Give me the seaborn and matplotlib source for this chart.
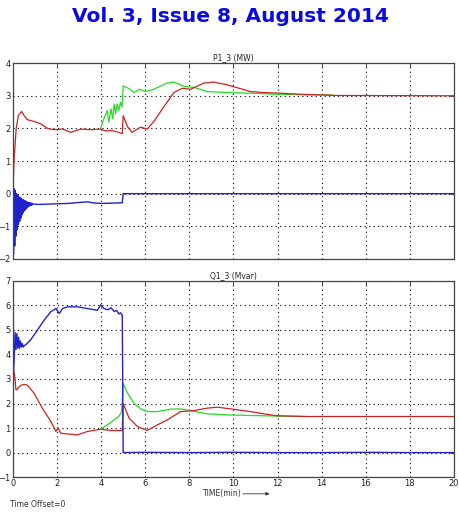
import numpy as np
import pandas as pd
import matplotlib
matplotlib.use("Agg")
import matplotlib.pyplot as plt
import seaborn as sns

# ---- data (time in minutes) ----
# P1_3 (MW)
p_red_t = [0, 0.05, 0.15, 0.25, 0.39, 0.5, 0.65, 0.97, 1.27, 1.57, 1.87, 2.25, 2.62, 3.08, 3.53,
           3.98, 4.2, 4.43, 4.7, 4.96, 5.0, 5.2, 5.4, 5.79, 6.09, 6.39, 6.85, 7.3, 7.68, 8.06,
           8.66, 9.1, 9.7, 10.77, 11.37, 12.1, 12.9, 14.7, 20]
p_red_y = [0, 1.0, 2.0, 2.4, 2.52, 2.4, 2.27, 2.21, 2.14, 2.0, 1.96, 1.98, 1.88, 1.98, 1.96,
           1.98, 1.92, 1.94, 1.9, 1.84, 2.39, 2.05, 1.88, 2.04, 1.98, 2.21, 2.67, 3.1, 3.23, 3.2,
           3.39, 3.42, 3.34, 3.13, 3.1, 3.08, 3.05, 3.01, 3.0]

p_green_t = [3.98, 4.1, 4.28, 4.35, 4.45, 4.52, 4.59, 4.66, 4.72, 4.8, 4.88, 4.95, 5.0, 5.27, 5.5,
             5.73, 6.03, 6.39, 6.99, 7.3, 7.75, 8.2, 8.8, 9.7, 10.77, 11.8, 14.5]
p_green_y = [2.0, 2.25, 2.55, 2.2, 2.6, 2.3, 2.75, 2.45, 2.75, 2.55, 2.8, 2.65, 3.3, 3.22, 3.1,
             3.2, 3.13, 3.2, 3.39, 3.42, 3.29, 3.26, 3.13, 3.1, 3.08, 3.05, 3.02]

p_blue_t = [0, 0.028, 0.056, 0.084, 0.112, 0.14, 0.168, 0.196, 0.224, 0.252, 0.28, 0.308, 0.336,
            0.364, 0.392, 0.42, 0.448, 0.476, 0.504, 0.532, 0.56, 0.588, 0.616, 0.644, 0.672,
            0.7, 0.728, 0.756, 0.784, 0.812, 0.84, 0.868, 0.9, 0.95, 1.2, 1.6, 2.0, 2.5, 3.0,
            3.4, 3.6, 4.0, 4.5, 4.96, 5.0, 20]
p_blue_y = [0, -1.85, 0.15, -1.6, 0.1, -1.3, 0.0, -1.1, -0.05, -0.95, -0.1, -0.85, -0.12, -0.75,
            -0.15, -0.65, -0.18, -0.58, -0.2, -0.52, -0.22, -0.47, -0.24, -0.43, -0.26, -0.4,
            -0.27, -0.38, -0.28, -0.36, -0.29, -0.35, -0.31, -0.32, -0.33, -0.32, -0.31, -0.3,
            -0.27, -0.25, -0.28, -0.3, -0.29, -0.28, 0.0, 0.0]

# Q1_3 (Mvar)
q_blue_t = [0, 0.05, 0.1, 0.14, 0.18, 0.22, 0.26, 0.3, 0.34, 0.38, 0.42, 0.46, 0.5, 0.59, 0.81,
            1.12, 1.42, 1.72, 1.95, 2.1, 2.25, 2.47, 2.93, 3.38, 3.83, 3.98, 4.13, 4.3, 4.45,
            4.6, 4.7, 4.8, 4.88, 4.96, 5.0, 6, 8, 10, 12, 14, 16, 18, 20]
q_blue_y = [3.0, 3.6, 4.9, 4.2, 4.85, 4.25, 4.7, 4.25, 4.55, 4.3, 4.45, 4.3, 4.35, 4.4, 4.6,
            5.0, 5.4, 5.74, 5.87, 5.67, 5.87, 5.94, 5.94, 5.87, 5.8, 6.02, 5.87, 5.82, 5.9,
            5.75, 5.8, 5.65, 5.7, 5.6, 0.0, 0.01, 0.0, 0.01, 0.0, 0.0, 0.01, 0.0, 0.0]

q_red_t = [0, 0.03, 0.1, 0.14, 0.22, 0.3, 0.4, 0.5, 0.65, 0.96, 1.34, 1.72, 1.95, 2.05, 2.17,
           2.47, 2.93, 3.38, 3.98, 4.43, 4.96, 5.0, 5.27, 5.65, 6.09, 6.55, 7.0, 7.6, 8.2, 8.8,
           9.27, 9.88, 10.77, 11.37, 11.97, 13.3, 20]
q_red_y = [0.0, 3.43, 3.0, 2.55, 2.6, 2.7, 2.75, 2.78, 2.75, 2.42, 1.8, 1.27, 0.86, 1.0, 0.79,
           0.76, 0.72, 0.86, 0.95, 0.9, 0.9, 2.0, 1.4, 1.06, 0.9, 1.13, 1.33, 1.67, 1.71, 1.81,
           1.85, 1.78, 1.67, 1.58, 1.5, 1.47, 1.47]

q_green_t = [3.98, 4.15, 4.28, 4.4, 4.58, 4.7, 4.8, 4.93, 5.0, 5.2, 5.5, 5.8, 6.09, 6.55, 7.15,
             7.6, 8.06, 8.8, 9.88, 11.37, 13.3]
q_green_y = [0.95, 1.05, 1.13, 1.2, 1.33, 1.4, 1.47, 1.67, 2.82, 2.42, 2.0, 1.78, 1.67, 1.67, 1.77,
             1.78, 1.71, 1.58, 1.53, 1.5, 1.47]

x_ticks = list(range(0, 21, 2))
p_ticks = list(range(-2, 5))
q_ticks = list(range(-1, 8))

RED = "#cc2222"
GREEN = "#22dd22"
BLUE = "#2222cc"

sns.set_theme(style="white")
plt.rcParams["font.family"] = ["DejaVu Sans"]

fig = plt.figure(figsize=(4.6, 5.22), dpi=100)
fig.text(0.5, 0.969, "Vol. 3, Issue 8, August 2014", ha="center", va="center",
         color="#0a0ae0", fontsize=14.5, fontweight="bold")

ax1 = fig.add_axes([0.028, 0.504, 0.959, 0.375])
ax2 = fig.add_axes([0.028, 0.086, 0.959, 0.376])


def draw(ax, series, yticks, title, show_x):
    for t, y, c, lw in series:
        sns.lineplot(x=t, y=y, ax=ax, color=c, linewidth=lw, sort=False, estimator=None)
    ax.set_xlim(0, 20)
    ax.set_ylim(yticks[0], yticks[-1])
    ax.set_xticks(x_ticks)
    ax.set_yticks(yticks)
    ax.grid(True, color="black", linestyle=(0, (1, 3)), linewidth=0.8)
    ax.tick_params(direction="in", length=3, width=0.6, top=True, right=True,
                   labelsize=6, pad=1.5, colors="#222222")
    if not show_x:
        ax.set_xticklabels([])
    for s in ax.spines.values():
        s.set_color("#444444")
        s.set_linewidth(0.9)
    ax.set_title(title, fontsize=5.5, pad=2, color="#222222")
    ax.set_xlabel("")
    ax.set_ylabel("")


draw(ax1, [(p_green_t, p_green_y, GREEN, 0.9),
           (p_red_t, p_red_y, RED, 0.9),
           (p_blue_t, p_blue_y, BLUE, 1.0)],
     p_ticks, "P1_3 (MW)", False)
draw(ax2, [(q_green_t, q_green_y, GREEN, 0.9),
           (q_red_t, q_red_y, RED, 0.9),
           (q_blue_t, q_blue_y, BLUE, 1.0)],
     q_ticks, "Q1_3 (Mvar)", True)

fig.text(0.484, 0.054, "TIME(min)", ha="center", va="center", fontsize=5.5, color="#333333")
fig.add_artist(matplotlib.patches.FancyArrowPatch(
    (0.522, 0.054), (0.592, 0.054), transform=fig.transFigure,
    arrowstyle="-|>", mutation_scale=5, linewidth=0.6, color="#333333"))
fig.text(0.022, 0.033, "Time Offset=0", ha="left", va="center", fontsize=5.5, color="#333333")

fig.savefig("out.png", dpi=100)
